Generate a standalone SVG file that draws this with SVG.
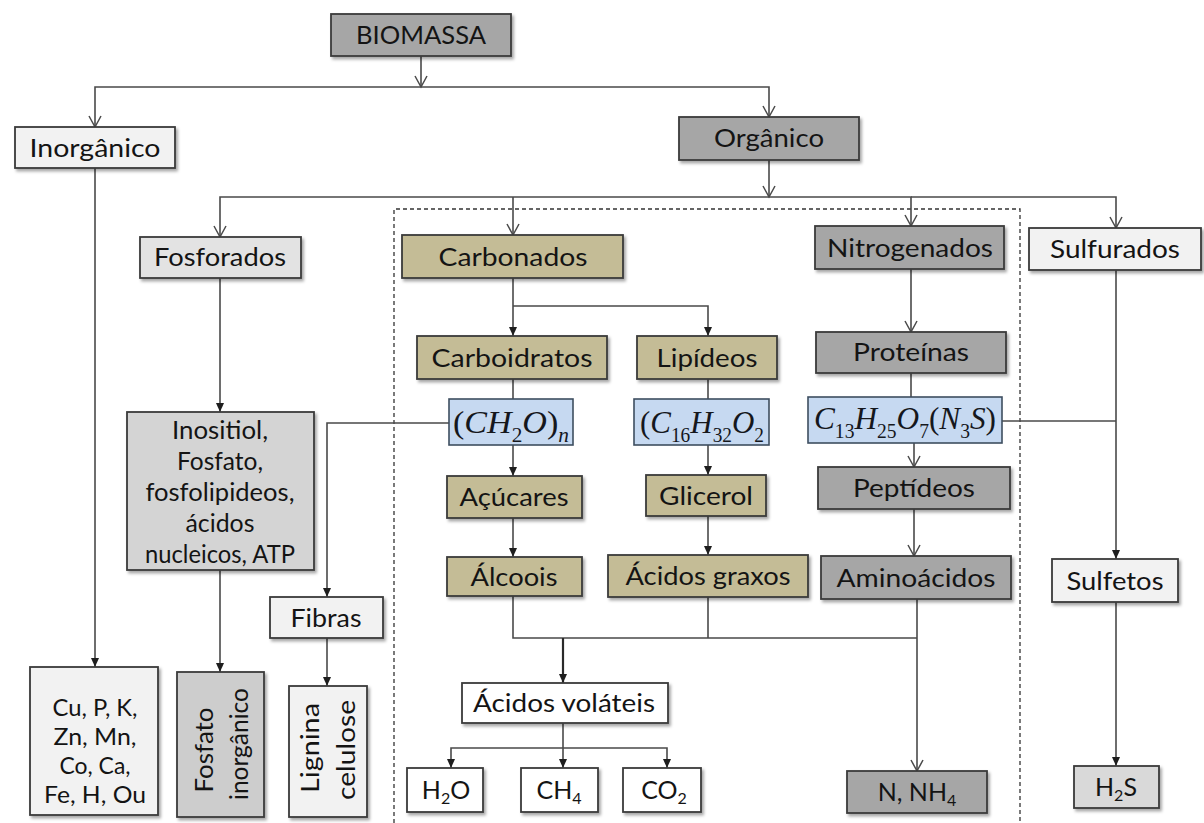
<svg xmlns="http://www.w3.org/2000/svg" width="1204" height="823" viewBox="0 0 1204 823">
  <defs>
    <filter id="shadow" x="-10%" y="-10%" width="130%" height="130%">
      <feDropShadow dx="2" dy="2.5" stdDeviation="1.6" flood-color="#000" flood-opacity="0.35"/>
    </filter>
    <!-- open "V" arrowhead -->
    <marker id="open" markerUnits="userSpaceOnUse" markerWidth="14" markerHeight="14" viewBox="0 0 14 14" refX="12" refY="7" orient="auto" overflow="visible">
      <path d="M1,1 L12,7 L1,13" fill="none" stroke="#4a4a4a" stroke-width="1.5"/>
    </marker>
    <!-- small solid arrowhead -->
    <marker id="solid" markerUnits="userSpaceOnUse" markerWidth="10" markerHeight="10" viewBox="0 0 10 10" refX="9" refY="5" orient="auto" overflow="visible">
      <path d="M0,1 L9,5 L0,9 z" fill="#1e1e1e"/>
    </marker>
    <style>
      .box { stroke: #3a3a3a; stroke-width: 1.8; filter: url(#shadow); }
      .dark { fill: #a6a6a6; }
      .light { fill: #f2f2f2; }
      .mid { fill: #e3e3e3; }
      .grey { fill: #d4d4d4; }
      .tan { fill: #c4bc96; }
      .white { fill: #ffffff; }
      .blue { fill: #c6d9f1; stroke: #3e4e60; stroke-width: 1.6; }
      text { font-family: Lato, "Liberation Sans", sans-serif; font-size: 25px; fill: #141414; text-anchor: middle; }
      .small { font-size: 23px; }
      .sub { font-size: 16px; }
      .math { font-family: "Liberation Serif", "Times New Roman", serif; font-size: 32px; font-style: italic; fill: #15171c; }
      .up { font-style: normal; }
      .msub { font-size: 20px; font-style: normal; }
      .misub { font-size: 20px; font-style: italic; }
      .conn { fill: none; stroke: #4a4a4a; stroke-width: 1.6; }
      .thick { stroke: #2a2a2a; stroke-width: 2.2; }
    </style>
  </defs>

  <!-- dashed frame around the organic carbon / nitrogen branch -->
  <path d="M394,823 V209 H1020 V823" fill="none" stroke="#333" stroke-width="1.3" stroke-dasharray="4 3"/>

  <g id="connectors">
    <path class="conn" d="M421,56 V87" marker-end="url(#open)"/>
    <path class="conn" d="M421,87 H95 V127" marker-end="url(#open)"/>
    <path class="conn" d="M421,87 H769 V117" marker-end="url(#open)"/>
    <path class="conn" d="M769,160 V197" marker-end="url(#open)"/>
    <path class="conn" d="M769,197 H220 V237" marker-end="url(#open)"/>
    <path class="conn" d="M513,197 V235" marker-end="url(#open)"/>
    <path class="conn" d="M769,197 H911 V226" marker-end="url(#open)"/>
    <path class="conn" d="M911,197 H1116 V228" marker-end="url(#open)"/>

    <path class="conn" d="M95,168 V667" marker-end="url(#solid)"/>
    <path class="conn" d="M220,278 V412" marker-end="url(#solid)"/>
    <path class="conn" d="M220,570 V672" marker-end="url(#solid)"/>

    <path class="conn" d="M513,278 V336" marker-end="url(#solid)"/>
    <path class="conn" d="M513,306 H708 V336" marker-end="url(#solid)"/>
    <path class="conn" d="M513,379 V399"/>
    <path class="conn" d="M708,379 V399"/>
    <path class="conn" d="M513,445 V476" marker-end="url(#solid)"/>
    <path class="conn" d="M513,518 V557" marker-end="url(#solid)"/>
    <path class="conn" d="M708,445 V475" marker-end="url(#solid)"/>
    <path class="conn" d="M708,516 V555" marker-end="url(#solid)"/>
    <path class="conn" d="M449,423 H327 V597" marker-end="url(#solid)"/>
    <path class="conn" d="M327,638 V686" marker-end="url(#solid)"/>

    <path class="conn" d="M513,596 V638 H917"/>
    <path class="conn" d="M708,597 V638"/>
    <path class="conn thick" d="M563,638 V683" marker-end="url(#solid)"/>
    <path class="conn" d="M563,723 V768" marker-end="url(#solid)"/>
    <path class="conn" d="M563,748 H451 V768" marker-end="url(#solid)"/>
    <path class="conn" d="M563,748 H667 V768" marker-end="url(#solid)"/>

    <path class="conn" d="M911,269 V332" marker-end="url(#open)"/>
    <path class="conn" d="M911,373 V397"/>
    <path class="conn" d="M914,443 V467" marker-end="url(#open)"/>
    <path class="conn" d="M914,509 V556" marker-end="url(#open)"/>
    <path class="conn" d="M917,599 V771" marker-end="url(#open)"/>

    <path class="conn" d="M1002,421 H1116"/>
    <path class="conn" d="M1116,270 V559" marker-end="url(#solid)"/>
    <path class="conn" d="M1116,602 V766" marker-end="url(#solid)"/>
  </g>

  <g id="biomassa"><rect class="box dark" x="331" y="14" width="180" height="42"/><text x="421" y="44" textLength="130" lengthAdjust="spacingAndGlyphs">BIOMASSA</text></g>
  <g id="inorganico"><rect class="box light" x="15" y="127" width="160" height="41"/><text x="95" y="157" textLength="131" lengthAdjust="spacingAndGlyphs">Inorgânico</text></g>
  <g id="organico"><rect class="box dark" x="679" y="117" width="180" height="43"/><text x="769" y="147" textLength="110" lengthAdjust="spacingAndGlyphs">Orgânico</text></g>

  <g id="fosforados"><rect class="box mid" x="140" y="237" width="161" height="41"/><text x="220" y="266" textLength="132" lengthAdjust="spacingAndGlyphs">Fosforados</text></g>
  <g id="carbonados"><rect class="box tan" x="402" y="235" width="221" height="43"/><text x="513" y="266" textLength="149" lengthAdjust="spacingAndGlyphs">Carbonados</text></g>
  <g id="nitrogenados"><rect class="box dark" x="815" y="226" width="189" height="43"/><text x="910" y="257" textLength="166" lengthAdjust="spacingAndGlyphs">Nitrogenados</text></g>
  <g id="sulfurados"><rect class="box light" x="1029" y="228" width="172" height="42"/><text x="1115" y="258" textLength="130" lengthAdjust="spacingAndGlyphs">Sulfurados</text></g>

  <g id="carboidratos"><rect class="box tan" x="417" y="336" width="190" height="43"/><text x="512" y="367" textLength="161" lengthAdjust="spacingAndGlyphs">Carboidratos</text></g>
  <g id="lipideos"><rect class="box tan" x="637" y="336" width="140" height="43"/><text x="707" y="367" textLength="101" lengthAdjust="spacingAndGlyphs">Lipídeos</text></g>
  <g id="proteinas"><rect class="box dark" x="816" y="332" width="190" height="41"/><text x="911" y="361" textLength="116" lengthAdjust="spacingAndGlyphs">Proteínas</text></g>

  <g id="formula-ch2o"><rect class="blue" x="449" y="399" width="124" height="46"/><text class="math" x="511" y="433" textLength="116" lengthAdjust="spacingAndGlyphs"><tspan class="up">(</tspan>CH<tspan class="msub" dy="9">2</tspan><tspan dy="-9">O</tspan><tspan class="up">)</tspan><tspan class="misub" dy="9">n</tspan></text></g>
  <g id="formula-lipid"><rect class="blue" x="634" y="399" width="135" height="46"/><text class="math" x="702" y="433" textLength="124" lengthAdjust="spacingAndGlyphs"><tspan class="up">(</tspan>C<tspan class="msub" dy="9">16</tspan><tspan dy="-9">H</tspan><tspan class="msub" dy="9">32</tspan><tspan dy="-9">O</tspan><tspan class="msub" dy="9">2</tspan></text></g>
  <g id="formula-protein"><rect class="blue" x="808" y="397" width="194" height="46"/><text class="math" x="905" y="429" textLength="182" lengthAdjust="spacingAndGlyphs">C<tspan class="msub" dy="9">13</tspan><tspan dy="-9">H</tspan><tspan class="msub" dy="9">25</tspan><tspan dy="-9">O</tspan><tspan class="msub" dy="9">7</tspan><tspan class="up" dy="-9">(</tspan>N<tspan class="msub" dy="9">3</tspan><tspan dy="-9">S</tspan><tspan class="up">)</tspan></text></g>

  <g id="inositiol"><rect class="box grey" x="127" y="412" width="187" height="158"/>
    <text x="220" y="439" textLength="96" lengthAdjust="spacingAndGlyphs">Inositiol,</text>
    <text x="220" y="470" textLength="86" lengthAdjust="spacingAndGlyphs">Fosfato,</text>
    <text x="220" y="501" textLength="149" lengthAdjust="spacingAndGlyphs">fosfolipideos,</text>
    <text x="220" y="532" textLength="69" lengthAdjust="spacingAndGlyphs">ácidos</text>
    <text x="220" y="563" textLength="150" lengthAdjust="spacingAndGlyphs">nucleicos, ATP</text>
  </g>

  <g id="acucares"><rect class="box tan" x="447" y="476" width="135" height="42"/><text x="514" y="506" textLength="109" lengthAdjust="spacingAndGlyphs">Açúcares</text></g>
  <g id="glicerol"><rect class="box tan" x="646" y="475" width="120" height="41"/><text x="706" y="505" textLength="94" lengthAdjust="spacingAndGlyphs">Glicerol</text></g>
  <g id="peptideos"><rect class="box dark" x="818" y="467" width="192" height="42"/><text x="914" y="497" textLength="122" lengthAdjust="spacingAndGlyphs">Peptídeos</text></g>

  <g id="alcoois"><rect class="box tan" x="447" y="557" width="135" height="39"/><text x="514" y="586" textLength="87" lengthAdjust="spacingAndGlyphs">Álcoois</text></g>
  <g id="acidos-graxos"><rect class="box tan" x="608" y="555" width="200" height="42"/><text x="708" y="585" textLength="165" lengthAdjust="spacingAndGlyphs">Ácidos graxos</text></g>
  <g id="aminoacidos"><rect class="box dark" x="821" y="556" width="190" height="43"/><text x="916" y="587" textLength="159" lengthAdjust="spacingAndGlyphs">Aminoácidos</text></g>
  <g id="sulfetos"><rect class="box light" x="1052" y="559" width="126" height="43"/><text x="1115" y="590" textLength="97" lengthAdjust="spacingAndGlyphs">Sulfetos</text></g>

  <g id="fibras"><rect class="box light" x="270" y="597" width="113" height="41"/><text x="326" y="627" textLength="71" lengthAdjust="spacingAndGlyphs">Fibras</text></g>

  <g id="minerais"><rect class="box light" x="30" y="667" width="128" height="148"/>
    <text class="small" x="95" y="716" textLength="85" lengthAdjust="spacingAndGlyphs">Cu, P, K,</text>
    <text class="small" x="95" y="745" textLength="83" lengthAdjust="spacingAndGlyphs">Zn, Mn,</text>
    <text class="small" x="95" y="774" textLength="71" lengthAdjust="spacingAndGlyphs">Co, Ca,</text>
    <text class="small" x="95" y="803" textLength="102" lengthAdjust="spacingAndGlyphs">Fe, H, Ou</text>
  </g>
  <g id="fosfato-inorganico"><rect class="box" fill="#cdcdcd" x="177" y="672" width="87" height="145"/>
    <text transform="translate(213,750) rotate(-90)" textLength="85" lengthAdjust="spacingAndGlyphs">Fosfato</text>
    <text transform="translate(248,744) rotate(-90)" textLength="112" lengthAdjust="spacingAndGlyphs">inorgânico</text>
  </g>
  <g id="lignina-celulose"><rect class="box light" x="289" y="686" width="78" height="131"/>
    <text transform="translate(319,748) rotate(-90)" textLength="90" lengthAdjust="spacingAndGlyphs">Lignina</text>
    <text transform="translate(355,750) rotate(-90)" textLength="100" lengthAdjust="spacingAndGlyphs">celulose</text>
  </g>

  <g id="acidos-volateis"><rect class="box white" x="462" y="683" width="206" height="40"/><text x="564" y="712" textLength="182" lengthAdjust="spacingAndGlyphs">Ácidos voláteis</text></g>
  <g id="h2o"><rect class="box white" x="407" y="768" width="76" height="44"/><text x="446" y="799">H<tspan class="sub" dy="5">2</tspan><tspan dy="-5">O</tspan></text></g>
  <g id="ch4"><rect class="box white" x="521" y="768" width="77" height="44"/><text x="559" y="799">CH<tspan class="sub" dy="5">4</tspan></text></g>
  <g id="co2"><rect class="box white" x="623" y="768" width="78" height="44"/><text x="664" y="799">CO<tspan class="sub" dy="5">2</tspan></text></g>
  <g id="n-nh4"><rect class="box dark" x="847" y="771" width="140" height="42"/><text x="917" y="801">N, NH<tspan class="sub" dy="5">4</tspan></text></g>
  <g id="h2s"><rect class="box" fill="#d9d9d9" x="1074" y="766" width="85" height="42"/><text x="1116" y="796">H<tspan class="sub" dy="5">2</tspan><tspan dy="-5">S</tspan></text></g>
</svg>
